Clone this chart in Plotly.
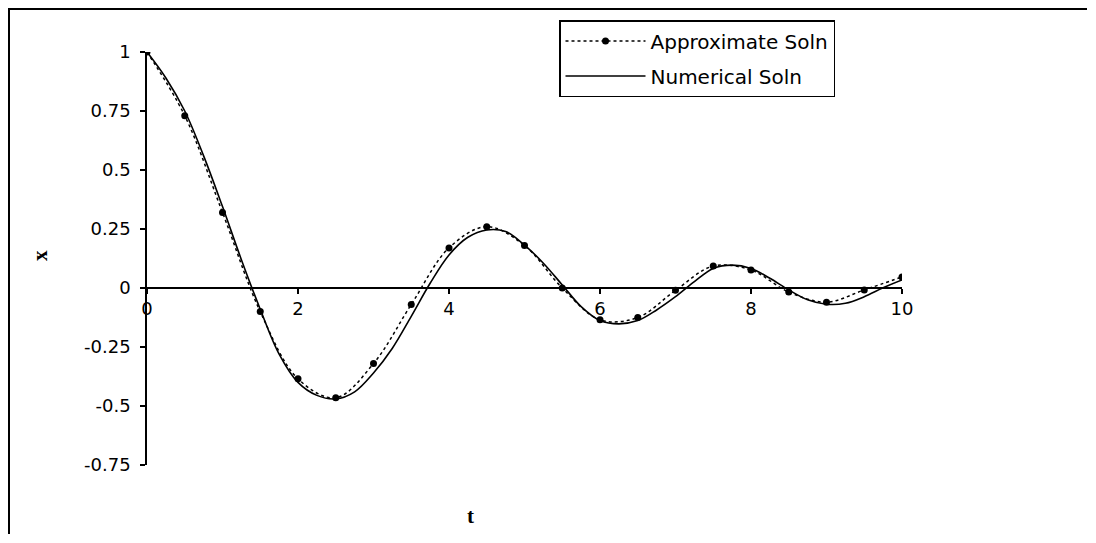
import plotly.graph_objects as go

# Approximate solution (points every 0.5)
t_approx = [0, 0.5, 1, 1.5, 2, 2.5, 3, 3.5, 4, 4.5, 5, 5.5, 6, 6.5, 7, 7.5, 8, 8.5, 9, 9.5, 10]
x_approx = [1.0, 0.73, 0.32, -0.10, -0.385, -0.465, -0.32, -0.07, 0.17, 0.26, 0.18, 0.0,
            -0.135, -0.125, -0.01, 0.093, 0.076, -0.017, -0.06, -0.008, 0.047]

# Numerical solution (read every 0.25)
t_num = [0, 0.25, 0.5, 0.75, 1, 1.25, 1.5, 1.75, 2, 2.25, 2.5, 2.75, 3, 3.25, 3.5, 3.75,
         4, 4.25, 4.5, 4.75, 5, 5.25, 5.5, 5.75, 6, 6.25, 6.5, 6.75, 7, 7.25, 7.5, 7.75,
         8, 8.25, 8.5, 8.75, 9, 9.25, 9.5, 9.75, 10]
x_num = [1.0, 0.89, 0.75, 0.56, 0.345, 0.12, -0.09, -0.28, -0.40, -0.455, -0.47, -0.44,
         -0.36, -0.255, -0.12, 0.02, 0.14, 0.215, 0.246, 0.239, 0.182, 0.105, 0.013,
         -0.079, -0.138, -0.152, -0.138, -0.093, -0.037, 0.027, 0.083, 0.097, 0.083,
         0.041, -0.008, -0.05, -0.069, -0.065, -0.037, 0.001, 0.034]

x_ticks = [0, 2, 4, 6, 8, 10]
y_ticks = [-0.75, -0.5, -0.25, 0, 0.25, 0.5, 0.75, 1]
y_ticktext = ["-0.75", "-0.5", "-0.25", "0", "0.25", "0.5", "0.75", "1"]

FONT = "DejaVu Sans, Liberation Sans, Arial, sans-serif"
SERIF = "Liberation Serif, Times New Roman, serif"

fig = go.Figure()
fig.add_trace(go.Scatter(
    x=t_approx, y=x_approx, name="Approximate Soln", mode="lines+markers",
    legendgroup="a",
    line=dict(color="black", width=1.5, dash="3px,3px", shape="spline", smoothing=1),
    marker=dict(color="black", size=7, symbol="circle"),
))
fig.add_trace(go.Scatter(
    x=t_num, y=x_num, name="Numerical Soln", mode="lines",
    legendgroup="b",
    line=dict(color="black", width=1.6, shape="spline", smoothing=1),
))

# screen-pixel plot area (page has an 8px body margin)
OFF = 8
FW, FH = 1080, 527
L, R, T, B = 147, 902, 52, 465
W, H = R - L, B - T
def px(p):
    return (p - L) / W
def py(p):
    return (B - p) / H

frame_path = "M {:.5f},{:.5f} L {:.5f},{:.5f} L {:.5f},{:.5f}".format(
    px(9), py(FH + OFF - 1), px(9), py(9), px(FW + OFF - 1), py(9))

fig.update_layout(
    width=FW, height=FH,
    margin=dict(l=L - OFF, r=FW - (R - OFF), t=T - OFF, b=FH - (B - OFF), pad=0),
    paper_bgcolor="white", plot_bgcolor="white",
    font=dict(family=FONT, size=18, color="black"),
    showlegend=True,
    legend=dict(
        x=px(559), y=py(20), xanchor="left", yanchor="top",
        bordercolor="black", borderwidth=1.5, bgcolor="white",
        font=dict(family=FONT, size=20, color="black"),
        itemwidth=80, tracegroupgap=6,
    ),
    xaxis=dict(
        range=[0, 10], tickvals=x_ticks, ticktext=[str(v) for v in x_ticks],
        showgrid=False, zeroline=False, showline=True, linecolor="black", linewidth=1.5,
        ticks="outside", ticklen=5, tickwidth=1.5, tickcolor="black",
        anchor="free", position=(0 - (-0.75)) / (1 - (-0.75)),
        tickfont=dict(family=FONT, size=18),
    ),
    yaxis=dict(
        range=[-0.75, 1], tickvals=y_ticks, ticktext=y_ticktext,
        showgrid=False, zeroline=False, showline=True, linecolor="black", linewidth=1.5,
        ticks="outside", ticklen=5, tickwidth=1.5, tickcolor="black",
        ticklabelstandoff=6,
        tickfont=dict(family=FONT, size=18),
    ),
    annotations=[
        dict(text="<b>t</b>", x=px(470), y=py(516), xref="paper", yref="paper",
             xanchor="center", yanchor="middle",
             showarrow=False, font=dict(family=SERIF, size=21)),
        dict(text="<b>x</b>", x=px(40), y=py(256), xref="paper", yref="paper",
             xanchor="center", yanchor="middle",
             showarrow=False, textangle=-90,
             font=dict(family=SERIF, size=21)),
    ],
    shapes=[
        dict(type="path", xref="paper", yref="paper", path=frame_path,
             line=dict(color="black", width=2), fillcolor="rgba(0,0,0,0)"),
    ],
)

fig.write_html("out.html")
